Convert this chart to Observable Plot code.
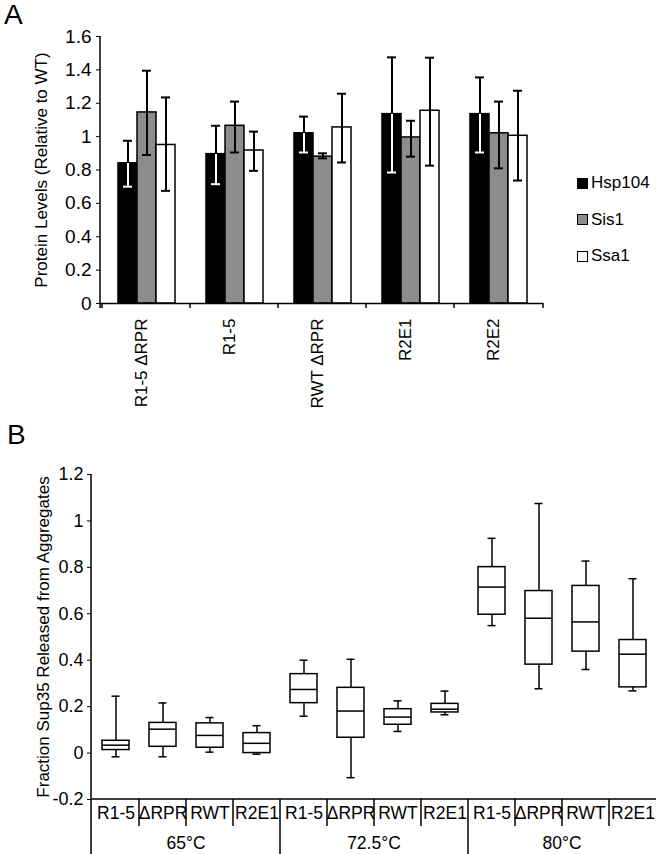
<!DOCTYPE html>
<html>
<head>
<meta charset="utf-8">
<script src="https://cdn.jsdelivr.net/npm/d3@7"></script>
<script src="https://cdn.jsdelivr.net/npm/@observablehq/plot@0.6"></script>
<style>
  html, body { margin: 0; padding: 0; background: #fff; }
  body { font-family: "Liberation Sans", Arial, sans-serif; color: #000; }
  #fig { position: relative; width: 660px; height: 854px; overflow: hidden; background: #fff; }
  #fig .layer { position: absolute; left: 0; }
  .tag { position: absolute; font-size: 28px; line-height: 28px; }
  #legend { position: absolute; left: 577px; top: 173px; font-size: 17px; line-height: 20px; }
  #legend .row { display: flex; align-items: center; height: 20px; margin-bottom: 16.5px; }
  #legend .sw { width: 11px; height: 11px; border: 1px solid #000; margin-right: 3px; box-sizing: border-box; }
</style>
</head>
<body>
<div id="fig">
  <div class="tag" style="left:4px;top:1px">A</div>
  <div class="tag" style="left:7px;top:421px">B</div>
  <div id="legend"></div>
</div>
<script>
// ---------- Panel A data ----------
const categoriesA = ["R1-5 ΔRPR", "R1-5", "RWT ΔRPR", "R2E1", "R2E2"];
const proteins = ["Hsp104", "Sis1", "Ssa1"];
const proteinColors = ["#000000", "#8c8c8c", "#ffffff"];
const hsp104Mean = [0.84, 0.895, 1.02, 1.135, 1.135];
const hsp104Lo   = [0.70, 0.715, 0.905, 0.785, 0.905];
const hsp104Hi   = [0.975, 1.065, 1.12, 1.475, 1.355];
const sis1Mean   = [1.145, 1.065, 0.88, 0.995, 1.02];
const sis1Lo     = [0.89, 0.905, 0.87, 0.88, 0.81];
const sis1Hi     = [1.395, 1.21, 0.90, 1.095, 1.21];
const ssa1Mean   = [0.95, 0.917, 1.055, 1.155, 1.005];
const ssa1Lo     = [0.675, 0.795, 0.845, 0.826, 0.737];
const ssa1Hi     = [1.235, 1.03, 1.257, 1.473, 1.275];
const yTicksA = [0, 0.2, 0.4, 0.6, 0.8, 1, 1.2, 1.4, 1.6];
const yLabelA = "Protein Levels (Relative to WT)";

// ---------- Panel B data ----------
const temps = ["65°C", "72.5°C", "80°C"];
const strains = ["R1-5", "ΔRPR", "RWT", "R2E1"];
const whiskerLow  = [-0.016, -0.016, 0.004, -0.005,  0.159, -0.106, 0.093, 0.165,  0.549, 0.277, 0.36, 0.268];
const quartile1   = [0.013, 0.027, 0.023, 0.0,       0.215, 0.066, 0.122, 0.175,  0.596, 0.381, 0.437, 0.283];
const medianB     = [0.034, 0.103, 0.076, 0.042,    0.274, 0.181, 0.155, 0.189,  0.715, 0.581, 0.565, 0.426];
const quartile3   = [0.053, 0.130, 0.128, 0.086,    0.340, 0.281, 0.189, 0.212,  0.801, 0.698, 0.720, 0.487];
const whiskerHigh = [0.245, 0.216, 0.153, 0.118,    0.400, 0.404, 0.225, 0.267,  0.925, 1.075, 0.827, 0.751];
const yTicksB = [-0.2, 0, 0.2, 0.4, 0.6, 0.8, 1, 1.2];
const yLabelB = "Fraction Sup35 Released from Aggregates";

// ---------- helpers ----------
const W = 660;
const fmt = d => String(Math.round(d * 10) / 10);
const baseStyle = {fontFamily: '"Liberation Sans", Arial, sans-serif', fontSize: "17px", background: "transparent", overflow: "visible", color: "black"};
const fig = document.getElementById("fig");
function place(svg, top) {
  svg.classList.add("layer");
  svg.style.top = top + "px";
  svg.style.position = "absolute";
  svg.style.left = "0px";
  fig.appendChild(svg);
}

const meanA = [hsp104Mean, sis1Mean, ssa1Mean];
const loA = [hsp104Lo, sis1Lo, ssa1Lo];
const hiA = [hsp104Hi, sis1Hi, ssa1Hi];
const rowsA = categoriesA.flatMap((cat, i) => proteins.map((p, j) => ({cat, protein: p, value: meanA[j][i], lo: loA[j][i], hi: hiA[j][i]})));
const isFirst = d => d.protein === proteins[0];
const notFirst = d => d.protein !== proteins[0];

const dimA = {width: W, height: 420, marginLeft: 100, marginRight: 117, marginTop: 36, marginBottom: 117};

// Bars (faceted by category)
const barsA = Plot.plot({
  ...dimA,
  style: baseStyle,
  facet: {data: rowsA, x: "cat"},
  fx: {domain: categoriesA, padding: 0, axis: null, label: null},
  x: {domain: proteins, paddingInner: 0, paddingOuter: 0.72, axis: null},
  y: {domain: [yTicksA[0], yTicksA[yTicksA.length - 1]], axis: null},
  color: {domain: proteins, range: proteinColors},
  marks: [
    Plot.barY(rowsA, {x: "protein", y: "value", fill: "protein", stroke: "black", strokeWidth: 1.5}),
    Plot.ruleX(rowsA, {filter: isFirst, x: "protein", y1: "lo", y2: "value", stroke: "white", strokeWidth: 2}),
    Plot.ruleX(rowsA, {filter: notFirst, x: "protein", y1: "lo", y2: "value", stroke: "black", strokeWidth: 2}),
    Plot.ruleX(rowsA, {x: "protein", y1: "value", y2: "hi", stroke: "black", strokeWidth: 2}),
    Plot.tickY(rowsA, {filter: isFirst, x: "protein", y: "lo", stroke: "white", strokeWidth: 2, insetLeft: 5, insetRight: 5}),
    Plot.tickY(rowsA, {filter: notFirst, x: "protein", y: "lo", stroke: "black", strokeWidth: 2, insetLeft: 5, insetRight: 5}),
    Plot.tickY(rowsA, {x: "protein", y: "hi", stroke: "black", strokeWidth: 2, insetLeft: 5, insetRight: 5})
  ]
});
place(barsA, 0);

// Axes overlay for panel A
const axesA = Plot.plot({
  ...dimA,
  style: baseStyle,
  x: {type: "band", domain: categoriesA, padding: 0, axis: null},
  y: {domain: [yTicksA[0], yTicksA[yTicksA.length - 1]], ticks: yTicksA, tickFormat: () => "", tickSize: 4, tickPadding: 5, label: null},
  marks: [
    Plot.ruleY([yTicksA[0]], {stroke: "black", strokeWidth: 1.5}),
    Plot.text(yTicksA, {y: d => d, text: fmt, frameAnchor: "left", textAnchor: "end", dx: -9, fontSize: 19}),
    Plot.text(categoriesA, {x: d => d, text: d => d, frameAnchor: "bottom", rotate: -90, textAnchor: "end", dy: 15, fontSize: 17}),
    Plot.text([yLabelA], {text: d => d, frameAnchor: "left", textAnchor: "middle", rotate: -90, dx: -59, fontSize: 17}),
    (index, scales, values, dims) => {
      const {x, y} = scales;
      const x0 = dims.marginLeft, x1 = dims.width - dims.marginRight;
      const y0 = y(yTicksA[0]), yTop = y(yTicksA[yTicksA.length - 1]);
      const g = d3.create("svg:g").attr("stroke", "black").attr("stroke-width", 1.5).attr("fill", "none");
      g.append("line").attr("x1", x0).attr("x2", x0).attr("y1", yTop).attr("y2", y0 + 5);
      const bounds = categoriesA.map(c => x(c)).concat([x1]);
      for (const b of bounds) g.append("line").attr("x1", b).attr("x2", b).attr("y1", y0).attr("y2", y0 + 5);
      return g.node();
    }
  ]
});
place(axesA, 0);

// Legend
const legend = document.getElementById("legend");
proteins.forEach((p, j) => {
  const row = document.createElement("div");
  row.className = "row";
  const sw = document.createElement("span");
  sw.className = "sw";
  sw.style.background = proteinColors[j];
  const lab = document.createElement("span");
  lab.textContent = p;
  row.appendChild(sw); row.appendChild(lab);
  legend.appendChild(row);
});

// ---------- Panel B ----------
const boxes = temps.flatMap((t, g) => strains.map((s, j) => {
  const i = g * strains.length + j;
  return {key: t + "|" + s, temp: t, strain: s, lo: whiskerLow[i], q1: quartile1[i], med: medianB[i], q3: quartile3[i], hi: whiskerHigh[i]};
}));
const keysB = boxes.map(d => d.key);

const plotB = Plot.plot({
  width: W, height: 434, marginLeft: 91, marginRight: 4, marginTop: 54, marginBottom: 55,
  style: baseStyle,
  x: {type: "band", domain: keysB, paddingInner: 0.43, paddingOuter: 0.215, axis: null},
  y: {domain: [yTicksB[0], yTicksB[yTicksB.length - 1]], ticks: yTicksB, tickFormat: () => "", tickSize: 4, tickPadding: 5, label: null},
  marks: [
    Plot.ruleX(boxes, {x: "key", y1: "lo", y2: "hi", stroke: "black", strokeWidth: 1.5}),
    Plot.tickY(boxes, {x: "key", y: "lo", stroke: "black", strokeWidth: 1.5, insetLeft: 9.5, insetRight: 9.5}),
    Plot.tickY(boxes, {x: "key", y: "hi", stroke: "black", strokeWidth: 1.5, insetLeft: 9.5, insetRight: 9.5}),
    Plot.barY(boxes, {x: "key", y1: "q1", y2: "q3", fill: "white", stroke: "black", strokeWidth: 1.5}),
    Plot.tickY(boxes, {x: "key", y: "med", stroke: "black", strokeWidth: 1.5}),
    Plot.text(yTicksB, {y: d => d, text: fmt, frameAnchor: "left", textAnchor: "end", dx: -8, fontSize: 18}),
    Plot.text(boxes, {x: "key", text: "strain", frameAnchor: "bottom", dy: 19, fontSize: 17.5}),
    Plot.text([yLabelB], {text: d => d, frameAnchor: "left", textAnchor: "middle", rotate: -90, dx: -48, fontSize: 17}),
    (index, scales, values, dims) => {
      const {x, y} = scales;
      const x0 = dims.marginLeft, x1 = dims.width - dims.marginRight;
      const yb = y(yTicksB[0]), yTop = y(yTicksB[yTicksB.length - 1]);
      const step = x.step ? x.step() : (x1 - x0) / keysB.length;
      const bw = x.bandwidth ? x.bandwidth() : step * 0.57;
      const slotLeft = k => x(k) - (step - bw) / 2;
      const g = d3.create("svg:g");
      const lines = g.append("g").attr("stroke", "black").attr("stroke-width", 1.5).attr("fill", "none");
      lines.append("line").attr("x1", x0).attr("x2", x0).attr("y1", yTop).attr("y2", dims.height);
      lines.append("line").attr("x1", x0).attr("x2", x1).attr("y1", yb).attr("y2", yb);
      keysB.forEach((k, i) => {
        if (i === 0) return;
        const xx = slotLeft(k);
        const long = i % strains.length === 0;
        lines.append("line").attr("x1", xx).attr("x2", xx).attr("y1", yb).attr("y2", long ? dims.height : yb + 27);
      });
      const labels = g.append("g").attr("fill", "black").attr("text-anchor", "middle").attr("font-size", 17.5);
      temps.forEach((t, gi) => {
        const ks = keysB.slice(gi * strains.length, (gi + 1) * strains.length);
        const left = slotLeft(ks[0]);
        const right = slotLeft(ks[ks.length - 1]) + step;
        labels.append("text").attr("x", (left + right) / 2).attr("y", yb + 44).attr("dy", "0.35em").text(t);
      });
      return g.node();
    }
  ]
});
place(plotB, 420);
</script>
</body>
</html>
